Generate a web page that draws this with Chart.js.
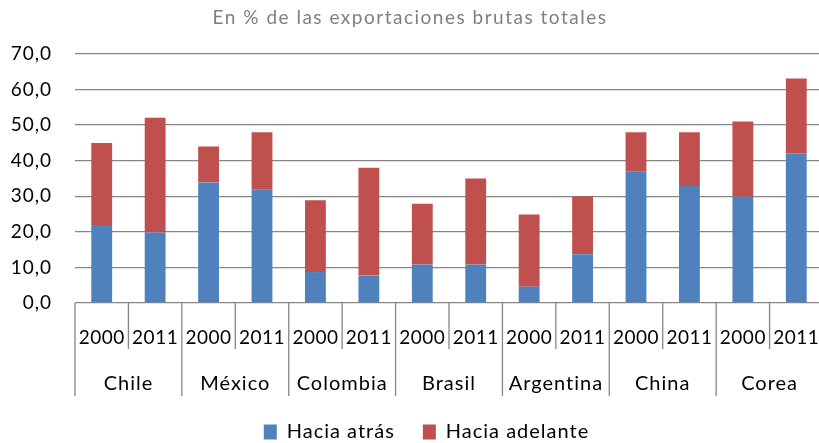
<!DOCTYPE html>
<html>
<head>
<meta charset="utf-8">
<script src="https://cdn.jsdelivr.net/npm/chart.js@4"></script>
<style>
  html, body { margin: 0; padding: 0; background: #fff; overflow: hidden; width: 819px; height: 443px; }
  #wrap { position: absolute; left: 0; top: 0; }
</style>
</head>
<body>
<div id="wrap"><canvas id="chart" width="823" height="452"></canvas></div>
<script>
const countries = ['Chile', 'México', 'Colombia', 'Brasil', 'Argentina', 'China', 'Corea'];
const years = ['2000', '2011'];
const yTicks = [0, 10, 20, 30, 40, 50, 60, 70];
const subtitulo = 'En % de las exportaciones brutas totales';

// Hacia atrás / Hacia adelante, en el orden Chile 2000, Chile 2011, México 2000...
const haciaAtras =    [21.9, 19.8, 33.9, 32.0, 8.7, 7.7, 10.8, 10.8, 4.6, 13.7, 36.9, 32.9, 29.9, 42.0];
const haciaAdelante = [23.1, 32.3, 10.1, 16.0, 20.2, 30.3, 17.1, 24.2, 20.3, 16.3, 11.1, 15.1, 21.1, 21.1];

const labels = [];
countries.forEach(c => years.forEach(y => labels.push(y)));

const lineColor = '#868686';
const fontFamily = 'Lato, "Open Sans", sans-serif';

// texto algo espaciado, como en el original; leyenda un poco a la derecha
const spacing = {
    id: 'spacing',
    beforeLayout(chart) { chart.ctx.letterSpacing = '1px'; },
    afterLayout(chart) {
        chart.legend.left += 15;
        chart.legend.right += 15;
    },
    beforeDraw(chart) { chart.ctx.letterSpacing = '1px'; }
};

// subtítulo y etiquetas de dos niveles bajo el eje x
const multiLevelAxis = {
    id: 'multiLevelAxis',
    afterDraw(chart) {
        const ctx = chart.ctx;
        const x = chart.scales.x;
        const bottom = chart.chartArea.bottom;
        const step = x.getPixelForValue(1) - x.getPixelForValue(0);
        ctx.save();
        ctx.textAlign = 'center';
        ctx.textBaseline = 'middle';

        ctx.fillStyle = '#7F7F7F';
        ctx.font = '19px ' + fontFamily;
        ctx.letterSpacing = '1.5px';
        ctx.fillText(subtitulo, 410, 18);

        ctx.strokeStyle = lineColor;
        ctx.lineWidth = 1.3;
        for (let k = 0; k <= labels.length; k++) {
            const px = x.getPixelForValue(0) - step / 2 + k * step;
            const end = (k % years.length === 0) ? bottom + 93 : bottom + 46;
            ctx.beginPath();
            ctx.moveTo(px, bottom);
            ctx.lineTo(px, end);
            ctx.stroke();
        }
        ctx.fillStyle = '#000';
        ctx.font = '19px ' + fontFamily;
        ctx.letterSpacing = '0.5px';
        labels.forEach((lab, i) => {
            ctx.fillText(lab, x.getPixelForValue(i), bottom + 35);
        });
        ctx.font = '20px ' + fontFamily;
        ctx.letterSpacing = '1px';
        countries.forEach((c, j) => {
            const a = x.getPixelForValue(j * years.length);
            const b = x.getPixelForValue(j * years.length + years.length - 1);
            ctx.fillText(c, (a + b) / 2, bottom + 81);
        });
        ctx.restore();
    }
};

const ctx = document.getElementById('chart').getContext('2d');
new Chart(ctx, {
    type: 'bar',
    data: {
        labels: labels,
        datasets: [{
            label: 'Hacia atrás',
            data: haciaAtras,
            backgroundColor: '#4F81BD',
            barPercentage: 0.39,
            categoryPercentage: 1
        }, {
            label: 'Hacia adelante',
            data: haciaAdelante,
            backgroundColor: '#C0504D',
            barPercentage: 0.39,
            categoryPercentage: 1
        }]
    },
    options: {
        responsive: false,
        animation: false,
        layout: { padding: { top: 54, right: 0, bottom: 0, left: 0 } },
        plugins: {
            tooltip: { enabled: false },
            legend: {
                position: 'bottom',
                labels: {
                    boxWidth: 13,
                    boxHeight: 15,
                    padding: 28,
                    color: '#000',
                    font: { family: fontFamily, size: 20 }
                }
            }
        },
        scales: {
            x: {
                stacked: true,
                grid: { display: false },
                border: { display: false },
                ticks: { display: false },
                afterFit(scale) { scale.height = 91; }
            },
            y: {
                stacked: true,
                min: 0,
                max: yTicks[yTicks.length - 1],
                afterBuildTicks(scale) { scale.ticks = yTicks.map(v => ({ value: v })); },
                grid: { color: lineColor, lineWidth: 1.3, drawTicks: false },
                border: { display: false },
                ticks: {
                    padding: 23,
                    color: '#000',
                    font: { family: fontFamily, size: 19 },
                    callback: v => v.toFixed(1).replace('.', ',')
                },
                afterFit(scale) { scale.width = 75; }
            }
        }
    },
    plugins: [spacing, multiLevelAxis]
});
</script>
</body>
</html>
